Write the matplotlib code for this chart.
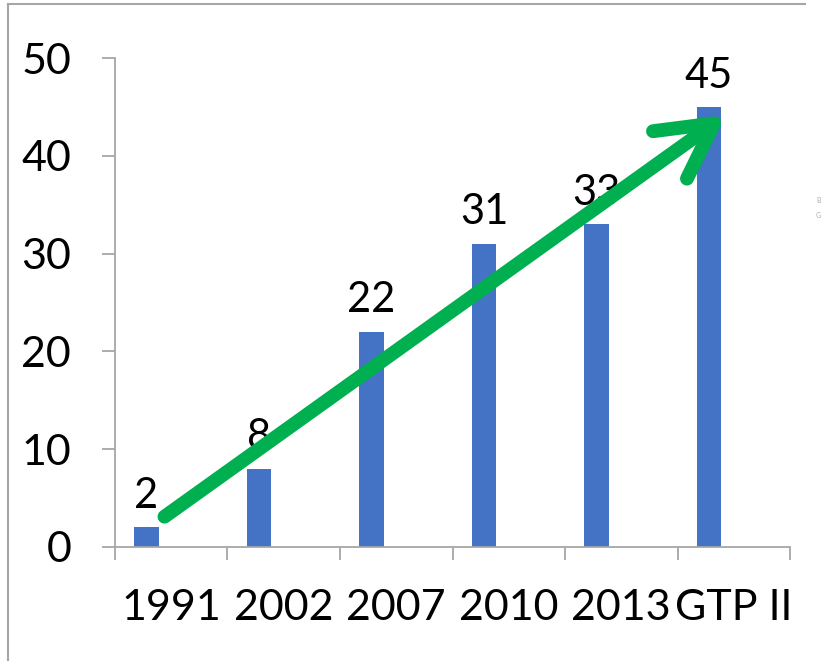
import matplotlib.pyplot as plt
from matplotlib.lines import Line2D
import numpy as np

plt.rcParams['font.family'] = ['Lato', 'DejaVu Sans']

categories = ['1991', '2002', '2007', '2010', '2013', 'GTP II']
values = [2, 8, 22, 31, 33, 45]
yticks = [0, 10, 20, 30, 40, 50]

# trend arrow drawn over the chart (data coords)
arrow_start = (-0.06, 3.1)
arrow_end = (4.93, 44.2)

bar_color = '#4472C4'
arrow_color = '#00B050'
grey = '#a6a6a6'

fig = plt.figure(figsize=(8.23, 6.61), dpi=100)
ax = fig.add_axes([0.1397, 0.1725, 0.96 - 0.1397, 0.912 - 0.1725])

x = np.arange(len(categories))
offset = -0.22
bars = ax.bar(x + offset, values, width=0.22, color=bar_color, zorder=2)
for xi, v in zip(x, values):
    ax.annotate(str(v), (xi + offset, v), xytext=(0, 9), textcoords='offset points',
                ha='center', va='bottom', fontsize=30, color='black', zorder=3)

ax.set_xlim(-0.5, len(categories) - 0.5)
ax.set_ylim(0, 50)
ax.set_yticks(yticks)
ax.set_xticks(x)
ax.set_xticklabels(categories)
ax.set_xticks(np.arange(len(categories) + 1) - 0.5, minor=True)

for s in ['top', 'right']:
    ax.spines[s].set_visible(False)
for s in ['left', 'bottom']:
    ax.spines[s].set_color(grey)
    ax.spines[s].set_linewidth(1.3)

ax.tick_params(axis='y', direction='out', length=9.5, width=1.3, color=grey,
               labelsize=31, pad=22, labelcolor='black')
ax.tick_params(axis='x', which='major', length=0, labelsize=31, pad=30, labelcolor='black')
ax.tick_params(axis='x', which='minor', direction='out', length=9.5, width=1.3, color=grey)

ax.annotate('', xy=arrow_end, xytext=arrow_start, zorder=5,
            arrowprops=dict(arrowstyle='->, head_length=3.9, head_width=2.1',
                            color=arrow_color, lw=10, capstyle='round',
                            joinstyle='round', shrinkA=0, shrinkB=0))

# outer frame of the pasted chart
fig.add_artist(Line2D([8 / 823, 8 / 823], [0, 1 - 4 / 661], transform=fig.transFigure,
                      color=grey, lw=1.5))
fig.add_artist(Line2D([8 / 823, 805 / 823], [1 - 4 / 661, 1 - 4 / 661],
                      transform=fig.transFigure, color=grey, lw=1.5))
fig.text(816 / 823, 1 - 200 / 661, 'B', fontsize=5, color='#b0b0b0', va='center')
fig.text(816 / 823, 1 - 215 / 661, 'G', fontsize=5, color='#b0b0b0', va='center')

fig.savefig('out.png', dpi=100)
